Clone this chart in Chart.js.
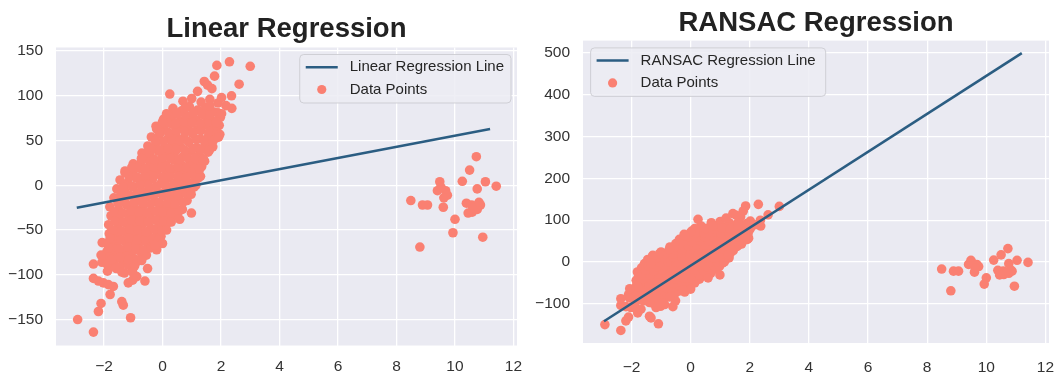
<!DOCTYPE html>
<html><head><meta charset="utf-8">
<script src="https://cdn.jsdelivr.net/npm/chart.js@4/dist/chart.umd.min.js"></script>
<style>
html,body{margin:0;padding:0;background:#fff;width:1057px;height:372px;overflow:hidden;}
#left{position:absolute;left:0;top:0;}
#right{position:absolute;left:527px;top:0;}
</style></head><body>
<canvas id="left" width="527" height="372"></canvas>
<canvas id="right" width="530" height="372"></canvas>
<script>
// ---------- data ----------
const coreX = [
 -1.88,-1.58,-1.30,-1.05,
 -1.95,-1.66,-1.38,-1.12,-0.86,
 -1.90,-1.62,-1.34,-1.07,-0.80,-0.55,
 -1.86,-1.58,-1.30,-1.02,-0.74,-0.48,-0.30,
 -1.82,-1.55,-1.27,-0.98,-0.70,-0.43,-0.18,-0.05,
 -1.84,-1.52,-1.24,-0.96,-0.68,-0.40,-0.12,0.10,0.22,
 -1.76,-1.48,-1.20,-0.92,-0.64,-0.36,-0.08,0.18,0.42,
 -1.80,-1.50,-1.22,-0.94,-0.66,-0.38,-0.10,0.16,0.42,0.68,
 -1.66,-1.38,-1.10,-0.82,-0.54,-0.26,0.02,0.30,0.56,0.84,
 -1.56,-1.28,-1.00,-0.72,-0.44,-0.16,0.12,0.40,0.66,0.92,1.08,
 -1.45,-1.18,-0.90,-0.62,-0.34,-0.06,0.22,0.50,0.78,1.05,1.22,
 -1.28,-1.00,-0.72,-0.44,-0.16,0.12,0.40,0.68,0.96,1.24,
 -1.00,-0.72,-0.44,-0.16,0.12,0.40,0.68,0.96,1.22,1.44,
 -0.70,-0.42,-0.14,0.14,0.42,0.70,0.98,1.26,1.56,
 -0.50,-0.22,0.06,0.34,0.62,0.90,1.18,1.46,1.72,
 -0.38,-0.10,0.18,0.46,0.74,1.02,1.30,1.58,1.84,
 -0.22,0.06,0.34,0.62,0.90,1.18,1.46,1.74,1.94,
 0.04,0.32,0.60,0.88,1.16,1.44,1.72,1.98,
 0.36,0.64,0.92,1.20,1.48,1.76,
 0.70,1.00,1.32,1.62,1.90
];
const coreY = [
 -96,-93,-98,-92,
 -84,-87,-83,-88,-85,
 -74,-77,-72,-76,-73,-78,
 -64,-67,-62,-66,-63,-68,-62,
 -54,-57,-52,-56,-53,-58,-52,-57,
 -44,-47,-42,-46,-43,-48,-42,-46,-41,
 -34,-37,-32,-36,-33,-38,-32,-36,-33,
 -24,-27,-22,-26,-23,-28,-22,-26,-23,-27,
 -14,-17,-12,-16,-13,-18,-12,-16,-13,-17,
 -4,-7,-2,-6,-3,-8,-2,-6,-3,-7,-2,
 6,3,8,4,7,2,8,4,7,3,8,
 16,13,18,14,17,12,18,14,17,13,
 24,27,22,26,23,28,22,26,23,27,
 36,33,38,34,37,32,38,34,37,
 44,47,42,46,43,48,42,46,43,
 54,57,52,56,53,58,52,56,53,
 66,63,68,64,67,62,68,64,67,
 74,77,72,76,73,78,72,76,
 86,83,88,84,87,82,
 94,97,93,96,92
];
const fillX = [
 -1.74,-1.45,-1.18,-0.95,
 -1.80,-1.52,-1.24,-0.96,-0.70,
 -1.76,-1.48,-1.18,-0.90,-0.62,-0.40,
 -1.70,-1.42,-1.14,-0.86,-0.58,-0.32,-0.14,
 -1.68,-1.40,-1.12,-0.84,-0.56,-0.28,-0.02,0.14,
 -1.62,-1.34,-1.06,-0.78,-0.50,-0.22,0.04,0.30,
 -1.64,-1.36,-1.08,-0.80,-0.52,-0.24,0.02,0.30,0.56,
 -1.52,-1.24,-0.96,-0.68,-0.40,-0.12,0.16,0.44,0.70,
 -1.42,-1.14,-0.86,-0.58,-0.30,-0.02,0.26,0.54,0.80,0.98,
 -1.32,-1.04,-0.76,-0.48,-0.20,0.08,0.36,0.64,0.90,1.14,
 -1.14,-0.86,-0.58,-0.30,-0.02,0.26,0.54,0.82,1.10,1.30,
 -0.86,-0.58,-0.30,-0.02,0.26,0.54,0.82,1.10,1.34,
 -0.56,-0.28,0.00,0.28,0.56,0.84,1.12,1.40,
 -0.36,-0.08,0.20,0.48,0.76,1.04,1.32,1.60,
 -0.24,0.04,0.32,0.60,0.88,1.16,1.44,1.72,
 -0.08,0.20,0.48,0.76,1.04,1.32,1.60,1.86,
 0.18,0.46,0.74,1.02,1.30,1.58,1.84,
 0.50,0.78,1.06,1.34,1.62,1.90
];
const fillY = [
 -90,-91,-89,-90,
 -80,-81,-79,-82,-80,
 -70,-71,-69,-70,-72,-70,
 -60,-61,-59,-61,-60,-59,-61,
 -50,-51,-49,-50,-52,-49,-51,-50,
 -40,-41,-39,-40,-41,-39,-40,-41,
 -30,-31,-29,-30,-31,-29,-30,-31,-29,
 -20,-21,-19,-20,-21,-19,-20,-21,-19,
 -10,-11,-9,-10,-11,-9,-10,-11,-9,-10,
 0,-1,1,0,-1,1,0,-1,1,0,
 10,9,11,10,9,11,10,9,11,10,
 20,19,21,20,19,21,20,19,21,
 30,29,31,30,29,31,30,29,
 40,39,41,40,39,41,40,39,
 50,49,51,50,49,51,50,49,
 60,59,61,60,59,61,60,59,
 70,69,71,70,69,71,70,
 80,79,81,80,79,81
];
const lowerX = [-2.90,-2.36,-1.09,-2.19,-2.10,-1.79,-1.39,-1.34,-2.36,-2.19,-2.02,-1.85,-1.68,-1.17,-1.02,-0.88,-0.60,-1.02,-1.39,-0.51,-2.36,-2.07,-1.90,-1.73,-2.10,-1.85,-1.79,-0.71,-1.17,-1.45,-0.20,0.00,-0.26,0.59,0.99,-2.06];
const lowerY = [-150,-164,-148,-141,-132,-122,-130,-134,-104,-107,-109,-111,-113,-109,-106,-102,-107,-97,-97,-93,-88,-86,-88,-83,-78,-70,-59,-84,-83,-80,-72,-65,-67,-38,-31,-64];
const upperX = [2.29,3.00,1.86,1.78,2.62,1.43,1.54,1.69,1.20,0.25,2.36,2.02,2.17,2.37,0.76,0.14,0.00,-0.20,-0.55,-0.72,-1.05,-1.28,-1.34,1.62,2.02,1.84,1.96,1.39,1.27,1.92];
const upperY = [138,133,134,122,113,116,112,108,105,102,100,98,89,86,86,80,71,63,36,30,20,14,-2,89,80,71,57,29,18,54];
const outlierX = [10.73,10.50,10.25,11.04,11.41,10.76,9.48,9.40,9.68,9.74,8.49,8.89,9.06,9.60,10.39,10.57,10.70,10.87,10.59,10.76,10.00,9.93,10.95,8.80,9.52,9.62,10.62,10.45,10.82];
const outlierY = [32,17,4.5,4,-1,-4,4,-6,-6,-11,-17,-22,-22,-24.5,-20,-22,-24.5,-22,-30,-27,-38,-53,-58,-69,-2,-14,-25,-31,-19];

const linLineX = [-2.93, 11.2];
const linLineY = [-25, 63];
const ransacLineX = [-2.93, 11.2];
const ransacLineY = [-142, 500];

const xTicks = [-2, 0, 2, 4, 6, 8, 10, 12];
const xTickLabels = ['\u22122', '0', '2', '4', '6', '8', '10', '12'];
const linYTicks = [-150, -100, -50, 0, 50, 100, 150];
const linYTickLabels = ['\u2212150', '\u2212100', '\u221250', '0', '50', '100', '150'];
const ranYTicks = [-100, 0, 100, 200, 300, 400, 500];
const ranYTickLabels = ['\u2212100', '0', '100', '200', '300', '400', '500'];

// ---------- helpers ----------
const FONT = "'Liberation Sans', Arial, Helvetica, sans-serif";
Chart.defaults.font.family = FONT;
const SALMON = '#FA8072';
const LINE = '#2b5d82';

function zip(xs, ys) { return xs.map((x, i) => ({x: x, y: ys[i]})); }
const dataPoints = [].concat(zip(coreX, coreY), zip(fillX, fillY), zip(lowerX, lowerY), zip(upperX, upperY), zip(outlierX, outlierY));

const plotBg = {
  id: 'plotBg',
  beforeDraw(chart, args, opts) {
    const {ctx, chartArea: a} = chart;
    ctx.save();
    ctx.fillStyle = opts.color;
    ctx.fillRect(a.left, a.top, a.right - a.left, a.bottom - a.top);
    ctx.restore();
  }
};

const boxLegend = {
  id: 'boxLegend',
  afterDraw(chart, args, o) {
    const {ctx, chartArea: a} = chart;
    ctx.save();
    ctx.font = '15px ' + FONT;
    const tw = Math.max(...o.items.map(it => ctx.measureText(it.text).width));
    const w = 50 + tw + o.padRight;
    const h = 48.5;
    const x = o.side === 'right' ? a.right - o.marginX - w : a.left + o.marginX;
    const y = a.top + o.marginY;
    ctx.beginPath();
    ctx.roundRect(x, y, w, h, 4);
    ctx.fillStyle = 'rgba(236,236,243,0.85)';
    ctx.fill();
    ctx.strokeStyle = 'rgba(204,204,210,0.9)';
    ctx.lineWidth = 1;
    ctx.stroke();
    const rows = [12.7, 35];
    o.items.forEach((it, i) => {
      const ry = y + rows[i];
      if (it.kind === 'line') {
        ctx.beginPath();
        ctx.moveTo(x + 6, ry);
        ctx.lineTo(x + 38, ry);
        ctx.strokeStyle = LINE;
        ctx.lineWidth = 2.5;
        ctx.stroke();
      } else {
        ctx.beginPath();
        ctx.arc(x + 22, ry, 4.6, 0, Math.PI * 2);
        ctx.fillStyle = SALMON;
        ctx.fill();
      }
      ctx.fillStyle = '#262626';
      ctx.textBaseline = 'middle';
      ctx.textAlign = 'left';
      ctx.fillText(it.text, x + 50, ry);
    });
    ctx.restore();
  }
};

function makeChart(id, c) {
  const lineData = zip(c.lineX, c.lineY);
  return new Chart(document.getElementById(id), {
    type: 'scatter',
    data: {
      datasets: [
        {label: c.lineLabel, data: lineData, showLine: true, borderColor: LINE, borderWidth: 2.6, pointRadius: 0, fill: false},
        {label: 'Data Points', data: dataPoints, backgroundColor: SALMON, borderWidth: 0, pointRadius: 4.8}
      ]
    },
    options: {
      responsive: false,
      animation: false,
      devicePixelRatio: 1,
      events: [],
      layout: {padding: {left: 0, right: c.padRight, top: 0, bottom: 0}},
      plugins: {
        legend: {display: false},
        tooltip: {enabled: false},
        title: {display: true, text: c.title, color: '#222222', fullSize: false,
          font: {size: 27.5, weight: 'bold', family: FONT}, padding: {top: c.titleTop, bottom: c.titleBottom}},
        plotBg: {color: '#EAEAF2'},
        boxLegend: {side: c.legendSide, marginX: c.legendMX, marginY: c.legendMY, padRight: c.legendPad,
          items: [{kind: 'line', text: c.lineLabel}, {kind: 'point', text: 'Data Points'}]}
      },
      scales: {
        x: {
          type: 'linear', min: c.xMin, max: c.xMax,
          afterBuildTicks: s => { s.ticks = xTicks.map(v => ({value: v})); },
          afterFit: s => { s.height = c.xAxisH; s.paddingLeft = 0; s.paddingRight = 0; },
          ticks: {callback: v => xTickLabels[xTicks.indexOf(v)], color: '#333333', font: {size: 15.5}, padding: c.xPad, maxRotation: 0, autoSkip: false},
          grid: {color: '#ffffff', lineWidth: 1.3, drawTicks: false},
          border: {display: false}
        },
        y: {
          type: 'linear', min: c.yMin, max: c.yMax,
          afterBuildTicks: s => { s.ticks = c.yTicks.map(v => ({value: v})); },
          afterFit: s => { s.width = 56; s.paddingTop = 0; s.paddingBottom = 0; },
          ticks: {callback: v => c.yLabels[c.yTicks.indexOf(v)], color: '#333333', font: {size: 15.5}, padding: 13, autoSkip: false},
          grid: {color: '#ffffff', lineWidth: 1.3, drawTicks: false},
          border: {display: false}
        }
      }
    },
    plugins: [plotBg, boxLegend]
  });
}

makeChart('left', {
  title: 'Linear Regression', lineLabel: 'Linear Regression Line',
  lineX: linLineX, lineY: linLineY,
  xMin: -3.64, xMax: 12.12, yMin: -179, yMax: 154,
  yTicks: linYTicks, yLabels: linYTickLabels,
  padRight: 10, titleTop: 12.5, titleBottom: 2, xAxisH: 26.5, xPad: 12.4,
  legendSide: 'right', legendMX: 6, legendMY: 7, legendPad: 7
});
makeChart('right', {
  title: 'RANSAC Regression', lineLabel: 'RANSAC Regression Line',
  lineX: ransacLineX, lineY: ransacLineY,
  xMin: -3.64, xMax: 12.12, yMin: -194, yMax: 530,
  yTicks: ranYTicks, yLabels: ranYTickLabels,
  padRight: 8, titleTop: 7, titleBottom: 0.6, xAxisH: 29, xPad: 15.4,
  legendSide: 'left', legendMX: 7.6, legendMY: 7.3, legendPad: 10
});
</script></body></html>
